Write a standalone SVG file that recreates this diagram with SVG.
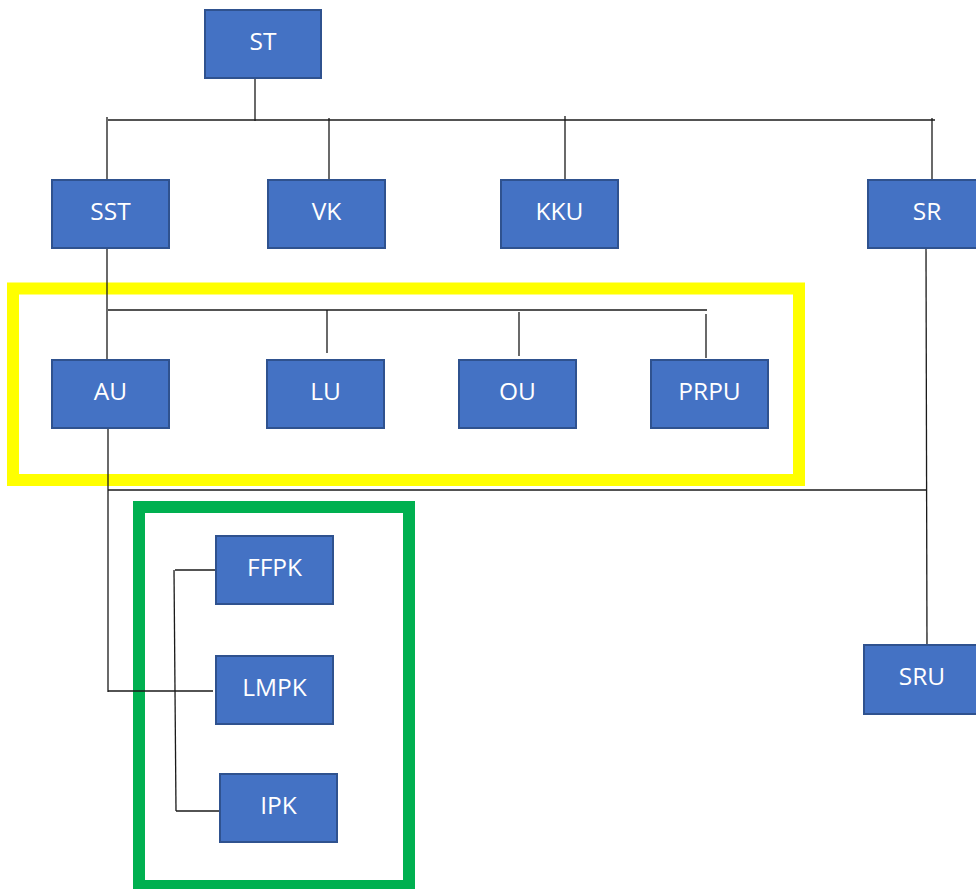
<svg xmlns="http://www.w3.org/2000/svg" width="976" height="889" viewBox="0 0 976 889">
<style>
.box{fill:#4472C4;stroke:#2F528F;stroke-width:2}
.lbl{fill:#fff;font-family:"Open Sans","Liberation Sans",sans-serif;font-size:24.5px;text-anchor:middle}
.ln{stroke:#1a1a1a;stroke-width:1.3;fill:none}
</style>
<rect width="976" height="889" fill="#fff"/>
<g id="frames">
<rect x="13" y="288.5" width="786" height="191.5" fill="none" stroke="#FFFF00" stroke-width="12"/>
<rect x="139" y="507" width="270" height="379" fill="none" stroke="#00B050" stroke-width="12"/>
</g>
<g id="connectors" class="ln">
<line x1="255" y1="78" x2="255" y2="121"/>
<line x1="108" y1="120" x2="935" y2="120"/>
<line x1="107" y1="117" x2="107" y2="180"/>
<line x1="329" y1="118" x2="329" y2="180"/>
<line x1="565" y1="116" x2="565" y2="180"/>
<line x1="932" y1="118" x2="932" y2="180"/>
<line x1="107" y1="248" x2="107" y2="360"/>
<line x1="108" y1="310" x2="707" y2="310"/>
<line x1="327" y1="310" x2="327" y2="353"/>
<line x1="519" y1="312" x2="519" y2="356"/>
<line x1="706" y1="314" x2="706" y2="358"/>
<line x1="108" y1="429" x2="108" y2="692"/>
<line x1="108" y1="490" x2="927" y2="490"/>
<line x1="926" y1="248" x2="927" y2="650"/>
<line x1="108" y1="691" x2="213" y2="691"/>
<line x1="174" y1="570" x2="176" y2="811"/>
<line x1="175" y1="570" x2="217" y2="570"/>
<line x1="176" y1="811" x2="220" y2="811"/>
</g>
<g id="ST"><rect class="box" x="205" y="10" width="116" height="68"/><text class="lbl" x="263" y="49.5">ST</text></g>
<g id="SST"><rect class="box" x="52" y="180" width="117" height="68"/><text class="lbl" x="110.5" y="219.5">SST</text></g>
<g id="VK"><rect class="box" x="268" y="180" width="117" height="68"/><text class="lbl" x="326.5" y="219.5">VK</text></g>
<g id="KKU"><rect class="box" x="501" y="180" width="117" height="68"/><text class="lbl" x="559.5" y="219.5">KKU</text></g>
<g id="SR"><rect class="box" x="868" y="180" width="118" height="68"/><text class="lbl" x="927" y="219.5">SR</text></g>
<g id="AU"><rect class="box" x="52" y="360" width="117" height="68"/><text class="lbl" x="110.5" y="399.5">AU</text></g>
<g id="LU"><rect class="box" x="267" y="360" width="117" height="68"/><text class="lbl" x="325.5" y="399.5">LU</text></g>
<g id="OU"><rect class="box" x="459" y="360" width="117" height="68"/><text class="lbl" x="517.5" y="399.5">OU</text></g>
<g id="PRPU"><rect class="box" x="651" y="360" width="117" height="68"/><text class="lbl" x="709.5" y="399.5">PRPU</text></g>
<g id="FFPK"><rect class="box" x="216" y="536" width="117" height="68"/><text class="lbl" x="274.5" y="575.5">FFPK</text></g>
<g id="LMPK"><rect class="box" x="216" y="656" width="117" height="68"/><text class="lbl" x="274.5" y="695.5">LMPK</text></g>
<g id="IPK"><rect class="box" x="220" y="774" width="117" height="68"/><text class="lbl" x="278.5" y="813.5">IPK</text></g>
<g id="SRU"><rect class="box" x="864" y="645" width="118" height="69"/><text class="lbl" x="922" y="684.5">SRU</text></g>
</svg>
